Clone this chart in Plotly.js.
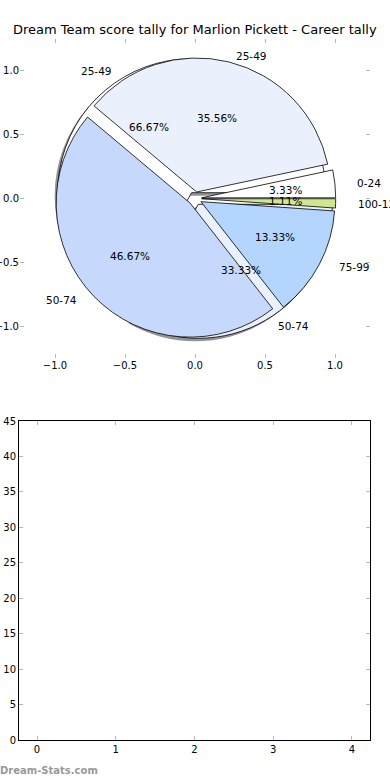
<!DOCTYPE html>
<html><head><meta charset="utf-8">
<script src="https://cdn.plot.ly/plotly-3.0.1.min.js"></script>
<style>body{margin:0;background:#fff}#chart{width:390px;height:780px}</style>
</head><body><div id="chart"></div>
<script>
// ---- data ----
const chartTitle = "Dream Team score tally for Marlion Pickett - Career tally";
const innerLabels = ["25-49", "50-74"];
const innerValues = [66.67, 33.33];
const outerLabels = ["0-24", "25-49", "50-74", "75-99", "100-124"];
const outerValues = [3.33, 35.56, 46.67, 13.33, 1.11];
const palette = ["#ffffff", "#eaf1fd", "#c6d9fd", "#b3d5fe", "#cfe890"];
const pieTicks = [-1.0, -0.5, 0.0, 0.5, 1.0];
const pieTickText = ["\u22121.0", "\u22120.5", "0.0", "0.5", "1.0"];
const lowerXTicks = [0, 1, 2, 3, 4];
const lowerYTicks = [0, 5, 10, 15, 20, 25, 30, 35, 40, 45];
const watermark = "Dream-Stats.com";

// ---- styling / geometry ----
const FONT = "DejaVu Sans";
const W = 390, H = 780;
const pieCx = 195, pieCy = 198.5, pieR = 134, pull = 0.05;
const half = pieR * (1 + pull);
function dom(cx, cy) {
  return {x: [(cx - half) / W, (cx + half) / W], y: [1 - (cy + half) / H, 1 - (cy - half) / H]};
}
function sum(a) { return a.reduce((p, q) => p + q, 0); }

// Plotly (counterclockwise) ends the first slice at `rotation`; shift so the first slice starts at 3 o'clock
function pieTrace(labels, values, colors, extra) {
  return Object.assign({
    type: "pie", labels: labels, values: values, sort: false,
    direction: "counterclockwise", rotation: 90 - 360 * values[0] / sum(values),
    pull: values.map(() => pull), textinfo: "none", hoverinfo: "skip",
    marker: {colors: colors, line: {color: "#000", width: 0.8}},
    domain: dom(pieCx, pieCy), showlegend: false
  }, extra || {});
}

const shadowCol = "rgba(60,60,60,0.55)";
const traces = [
  pieTrace(innerLabels, innerValues, null,
    {domain: dom(pieCx - 3, pieCy + 3), marker: {colors: innerValues.map(() => shadowCol), line: {width: 0}}}),
  pieTrace(innerLabels, innerValues, palette.slice(0, innerValues.length)),
  pieTrace(outerLabels, outerValues, palette.slice(0, outerValues.length)),
  {type: "scatter", x: [], y: [], xaxis: "x", yaxis: "y", showlegend: false},
  {type: "scatter", x: [], y: [], xaxis: "x2", yaxis: "y2", showlegend: false}
];

// annotations derived from data (matplotlib-style: label at 1.1r, pct at 0.6r, plus explode)
const annotations = [];
function addPieText(labels, values) {
  const total = sum(values);
  let start = 0;
  values.forEach((v, i) => {
    const frac = v / total;
    const mid = (start + frac * 180) * Math.PI / 180;
    start += frac * 360;
    const c = Math.cos(mid), s = Math.sin(mid);
    annotations.push({xref: "x", yref: "y", x: (1.1 + pull) * c, y: (1.1 + pull) * s,
      text: labels[i], showarrow: false, xanchor: c > 0 ? "left" : "right", yanchor: "middle",
      font: {family: FONT, size: 10.5, color: "#000"}});
    annotations.push({xref: "x", yref: "y", x: (0.6 + pull) * c, y: (0.6 + pull) * s,
      text: (frac * 100).toFixed(2) + "%", showarrow: false, xanchor: "center", yanchor: "middle",
      font: {family: FONT, size: 10.5, color: "#000"}});
  });
}
addPieText(innerLabels, innerValues);
addPieText(outerLabels, outerValues);

annotations.push({xref: "paper", yref: "paper", x: 195 / W, y: 1 - 30 / H, text: chartTitle,
  showarrow: false, xanchor: "center", yanchor: "middle", font: {family: FONT, size: 13, color: "#000"}});
annotations.push({xref: "paper", yref: "paper", x: 0, y: 1 - 770 / H, text: "<b>" + watermark + "</b>",
  showarrow: false, xanchor: "left", yanchor: "middle", xshift: -2, font: {family: FONT, size: 10, color: "#999"}});

const tickStyle = {ticks: "inside", ticklen: 4, tickwidth: 1, tickcolor: "#b8b8b8",
  showgrid: false, zeroline: false, tickfont: {family: FONT, size: 10, color: "#000"}, fixedrange: true};

const layout = {
  width: W, height: H, margin: {l: 0, r: 0, t: 0, b: 0},
  paper_bgcolor: "#fff", plot_bgcolor: "rgba(0,0,0,0)", showlegend: false,
  xaxis: Object.assign({}, tickStyle, {domain: [20 / W, 370 / W], range: [-1.25, 1.25],
    tickvals: pieTicks, ticktext: pieTickText, showline: false, mirror: "ticks", anchor: "y"}),
  yaxis: Object.assign({}, tickStyle, {domain: [1 - 358 / H, 1 - 39 / H], range: [-1.25, 1.25],
    tickvals: pieTicks, ticktext: pieTickText, showline: false, mirror: "ticks", anchor: "x"}),
  xaxis2: Object.assign({}, tickStyle, {domain: [19 / W, 370 / W], range: [-0.229, 4.229],
    tickvals: lowerXTicks, showline: true, linecolor: "#000", linewidth: 1, mirror: "ticks", anchor: "y2"}),
  yaxis2: Object.assign({}, tickStyle, {domain: [1 - 740 / H, 1 - 421 / H], range: [0, 45],
    tickvals: lowerYTicks, showline: true, linecolor: "#000", linewidth: 1, mirror: "ticks", anchor: "x2"}),
  annotations: annotations
};

Plotly.newPlot("chart", traces, layout, {staticPlot: true, displayModeBar: false});
</script>
</body></html>
